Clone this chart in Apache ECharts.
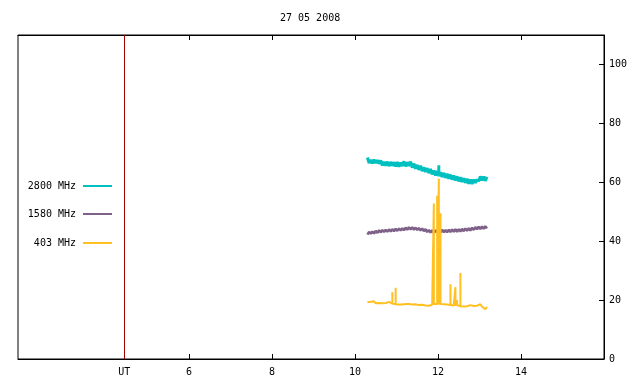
<!DOCTYPE html>
<html>
<head>
<meta charset="utf-8">
<script src="https://cdn.jsdelivr.net/npm/echarts@6/dist/echarts.min.js"></script>
<style>
  html, body { margin: 0; padding: 0; background: #fff; }
  #chart { width: 640px; height: 384px; }
</style>
</head>
<body>
<div id="chart"></div>
<script>
// sample times (UT hours)
var ut = [10.30, 10.34, 10.38, 10.42, 10.46, 10.50, 10.54, 10.58, 10.62, 10.66,
          10.70, 10.74, 10.78, 10.82, 10.86, 10.90, 10.94, 10.98, 11.02, 11.06,
          11.10, 11.14, 11.18, 11.22, 11.26, 11.30, 11.34, 11.38, 11.42, 11.46,
          11.50, 11.54, 11.58, 11.62, 11.66, 11.70, 11.74, 11.78, 11.82, 11.86,
          11.90, 11.94, 11.98, 12.02, 12.06, 12.10, 12.14, 12.18, 12.22, 12.26,
          12.30, 12.34, 12.38, 12.42, 12.46, 12.50, 12.54, 12.58, 12.62, 12.66,
          12.70, 12.74, 12.78, 12.82, 12.86, 12.90, 12.94, 12.98, 13.02, 13.06,
          13.10, 13.14, 13.18];

var flux2800 = [68.4, 66.5, 67.6, 66.4, 67.7, 66.5, 67.5, 66.3, 67.4, 65.7,
                66.9, 65.6, 67.0, 65.5, 66.9, 65.6, 66.8, 65.4, 66.9, 65.3,
                66.7, 65.5, 67.1, 65.4, 66.8, 65.6, 67.0, 65.0, 66.3, 64.6,
                65.9, 64.2, 65.6, 63.8, 65.1, 63.5, 64.8, 63.1, 64.5, 62.7,
                64.0, 62.3, 63.8, 62.1, 63.4, 61.8, 63.2, 61.5, 62.9, 61.2,
                62.6, 60.9, 62.3, 60.6, 62.0, 60.3, 61.7, 60.1, 61.4, 59.8,
                61.2, 59.5, 60.9, 59.4, 60.9, 59.8, 61.0, 60.3, 62.0, 60.6,
                61.9, 60.5, 61.8];

var flux1580 = [42.2, 43.2, 42.5, 43.3, 42.6, 43.5, 42.8, 43.7, 43.0, 43.8,
                43.1, 43.9, 43.2, 44.0, 43.3, 44.1, 43.4, 44.2, 43.5, 44.3,
                43.6, 44.4, 43.7, 44.6, 43.9, 44.7, 44.0, 44.7, 43.9, 44.6,
                43.8, 44.5, 43.6, 44.3, 43.4, 44.1, 43.1, 43.8, 42.9, 43.7,
                42.8, 43.7, 42.9, 43.8, 43.0, 43.9, 43.0, 43.8, 43.0, 43.9,
                43.1, 44.0, 43.2, 44.1, 43.2, 44.1, 43.3, 44.2, 43.4, 44.3,
                43.5, 44.4, 43.6, 44.6, 43.8, 44.8, 44.0, 44.9, 44.1, 45.0,
                44.2, 45.1, 44.3];

var flux403 = [19.3, 18.9, 19.4, 19.0, 19.6, 18.9, 19.3, 19.0, 19.4, 18.9,
               19.3, 19.0, 18.9, 19.4, 19.0, 18.8, 19.1, 18.6, 18.7, 18.5,
               18.7, 18.5, 18.8, 18.7, 19.0, 18.7, 18.9, 18.5, 18.6, 18.6,
               18.7, 18.3, 18.8, 18.4, 19.0, 18.2, 18.3, 18.1, 18.6, 18.4,
               18.7, 18.4, 18.7, 18.4, 18.7, 18.4, 18.6, 18.5, 18.5, 18.1,
               18.3, 18.2, 18.2, 18.1, 18.3, 17.7, 17.9, 17.8, 17.8, 17.7,
               17.9, 18.1, 18.3, 18.0, 18.0, 17.7, 18.1, 18.3, 18.6, 17.8,
               17.5, 16.9, 17.7];

// bursts: [time, peak]
var spikes2800 = [[12.02, 65.8]];
var spikes1580 = [[12.02, 46.3]];
var spikes403 = [[10.90, 22.7], [10.98, 24.2], [11.90, 52.8], [11.98, 55.4],
                 [12.02, 61.2], [12.06, 49.5], [12.30, 25.4], [12.42, 24.4],
                 [12.46, 20.0], [12.54, 29.2]];

var xTicks = [6, 8, 10, 12, 14];
var xLabels = [4.44, 6, 8, 10, 12, 14];
var yTicks = [0, 20, 40, 60, 80, 100];
var utMark = 4.44;

var names = ['2800 MHz', '1580 MHz', '403 MHz'];
var colors = ['#00c0c0', '#7e6088', '#ffc020'];
var widths = [3, 2.5, 2];
var mono = 'DejaVu Sans Mono';

function buildLine(values, spikes) {
    var out = [];
    for (var i = 0; i < ut.length; i++) {
        out.push([ut[i], values[i]]);
        spikes.forEach(function (s) {
            if (Math.abs(s[0] - ut[i]) < 0.001) {
                out.push([ut[i], s[1]]);
                out.push([ut[i], values[i]]);
            }
        });
    }
    return out;
}

function legendFor(name, top) {
    return {
        data: [name],
        right: 523,
        top: top,
        align: 'right',
        icon: 'rect',
        itemWidth: 29,
        itemHeight: 2,
        selectedMode: false,
        textStyle: { fontFamily: mono, fontSize: 10, color: '#000', padding: [0, 2, 0, 0] }
    };
}

var chart = echarts.init(document.getElementById('chart'));
chart.setOption({
    animation: false,
    backgroundColor: '#fff',
    title: {
        text: '27 05 2008',
        left: 275,
        top: 8,
        textStyle: { fontFamily: mono, fontSize: 10, fontWeight: 'normal', color: '#000' }
    },
    legend: [legendFor(names[0], 176), legendFor(names[1], 204), legendFor(names[2], 233)],
    grid: {
        left: 18, right: 36, top: 35, bottom: 25,
        show: true, borderColor: '#000', borderWidth: 1
    },
    xAxis: [
        {
            type: 'value', position: 'bottom', min: 1.88, max: 16,
            splitLine: { show: false },
            axisLine: { lineStyle: { color: '#000' } },
            axisTick: { inside: true, length: 5, customValues: xTicks, lineStyle: { color: '#000' } },
            axisLabel: {
                customValues: xLabels, margin: 8,
                fontFamily: mono, fontSize: 10, color: '#000',
                formatter: function (v) { return v < 5 ? 'UT' : String(v); }
            }
        },
        {
            type: 'value', position: 'top', min: 1.88, max: 16,
            splitLine: { show: false },
            axisLine: { lineStyle: { color: '#000' } },
            axisTick: { inside: true, length: 5, customValues: xTicks, lineStyle: { color: '#000' } },
            axisLabel: { show: false }
        }
    ],
    yAxis: {
        type: 'value', position: 'right', min: 0, max: 110,
        splitLine: { show: false },
        axisLine: { show: true, lineStyle: { color: '#000' } },
        axisTick: { inside: true, length: 5, customValues: yTicks, lineStyle: { color: '#000' } },
        axisLabel: { customValues: yTicks, margin: 5, fontFamily: mono, fontSize: 10, color: '#000' }
    },
    series: [
        {
            name: names[0], type: 'line', showSymbol: false, symbol: 'none',
            color: colors[0], lineStyle: { width: widths[0], color: colors[0] },
            data: buildLine(flux2800, spikes2800)
        },
        {
            name: names[1], type: 'line', showSymbol: false, symbol: 'none',
            color: colors[1], lineStyle: { width: widths[1], color: colors[1] },
            data: buildLine(flux1580, spikes1580)
        },
        {
            name: names[2], type: 'line', showSymbol: false, symbol: 'none',
            color: colors[2], lineStyle: { width: widths[2], color: colors[2] },
            data: buildLine(flux403, spikes403),
            markLine: {
                silent: true, symbol: 'none', animation: false,
                label: { show: false },
                lineStyle: { color: '#a00000', width: 1, type: 'solid' },
                data: [{ xAxis: utMark }]
            }
        }
    ]
});
</script>
</body>
</html>
